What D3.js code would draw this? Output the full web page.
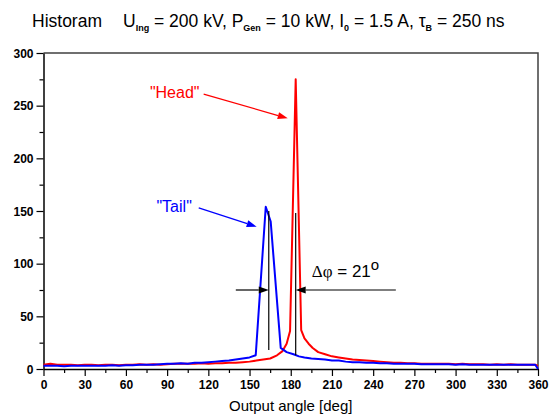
<!DOCTYPE html>
<html>
<head>
<meta charset="utf-8">
<script src="https://cdn.jsdelivr.net/npm/d3@7"></script>
<style>
  body { margin: 0; background: #fff; }
  svg { display: block; font-family: Arial, "Liberation Sans", sans-serif; }
</style>
</head>
<body>
<svg id="chart" width="549" height="420"></svg>
<script>
// histogram "Head" (red)
let headAngle = [0, 5, 10, 15, 20, 25, 30, 35, 40, 45, 50, 55, 60, 65, 70, 75, 80, 85, 90, 95, 100, 105, 110, 115, 120, 125, 130, 135, 140, 145, 150, 155, 160, 165, 170, 174, 177, 179.5, 183.6, 187.6, 190, 193, 196, 200, 205, 210, 215, 220, 225, 230, 235, 240, 245, 250, 255, 260, 265, 270, 275, 280, 285, 290, 295, 300, 305, 310, 315, 320, 325, 330, 335, 340, 345, 350, 355, 358, 360]
let headCount = [4, 5, 4, 4, 4, 3.5, 4, 4, 3.5, 4, 4, 3.5, 4, 4, 4.5, 4, 4.5, 4, 4.5, 5, 5, 5, 5, 5.5, 5, 5.5, 5.5, 6, 6, 6.5, 7, 8, 9, 10, 13, 17, 24, 36, 275, 37, 29, 24, 20, 16, 14, 12, 11, 10, 9, 8.5, 8, 7.5, 7, 6.5, 6, 6, 5.5, 5.5, 5, 5, 5, 5, 5, 4.5, 5, 4.5, 4.5, 4.5, 4, 4.5, 4, 4.5, 4, 4, 4, 4, 3]

// histogram "Tail" (blue)
let tailAngle = [0, 5, 10, 15, 20, 25, 30, 35, 40, 45, 50, 55, 60, 65, 70, 75, 80, 85, 90, 95, 100, 105, 110, 115, 120, 125, 130, 135, 140, 145, 150, 154.5, 161.8, 165.4, 172.7, 177, 182, 186, 190, 195, 200, 205, 210, 215, 220, 225, 230, 235, 240, 245, 250, 255, 260, 265, 270, 275, 280, 285, 290, 295, 300, 305, 310, 315, 320, 325, 330, 335, 340, 345, 350, 355, 358, 360]
let tailCount = [3, 3, 3, 2.5, 3, 3, 3, 3, 3, 3, 3.5, 3, 3.5, 3.5, 4, 4, 4, 4.5, 5, 5, 5.5, 5, 6, 6, 6.5, 7, 7.5, 8, 9, 10, 11, 13, 154, 140, 20, 16, 14, 12, 11, 10, 9.5, 9, 8, 8, 7, 6.5, 6.5, 6, 6, 5.5, 5.5, 5, 5, 5, 5, 4.5, 4.5, 4.5, 4.5, 4.5, 4, 4.5, 4, 4, 4, 4, 4, 4, 4, 4, 4, 4, 4, 0]

let xTicks = d3.range(0, 361, 30)
let yTicks = [0, 50, 100, 150, 200, 250, 300]

let svg = d3.select('#chart')
let plotLeft = 43.5, plotRight = 538, plotTop = 53, plotBottom = 369

let x = d3.scaleLinear().domain([0, 360]).range([plotLeft, plotRight])
let y = d3.scaleLinear().domain([0, 300]).range([plotBottom, plotTop])

// frame on top and right
svg.append('path')
   .attr('d', 'M' + plotLeft + ',' + plotTop + 'H' + plotRight + 'V' + plotBottom)
   .attr('fill', 'none')
   .attr('stroke', '#404040')
   .attr('stroke-width', 1.5)

// minor ticks
let xAxisMinor = d3.axisBottom(x).tickValues(d3.range(15, 360, 30)).tickSize(4).tickFormat('')
let yAxisMinor = d3.axisLeft(y).tickValues(d3.range(25, 300, 50)).tickSize(4).tickFormat('')

svg.append('g').attr('transform', 'translate(0,' + plotBottom + ')').call(xAxisMinor)
   .call(g => g.select('.domain').remove())
   .selectAll('line').attr('stroke-width', 1.2)
svg.append('g').attr('transform', 'translate(' + plotLeft + ',0)').call(yAxisMinor)
   .call(g => g.select('.domain').remove())
   .selectAll('line').attr('stroke-width', 1.2)

let xAxis = d3.axisBottom(x).tickValues(xTicks).tickSize(7).tickSizeOuter(0).tickPadding(4)
let yAxis = d3.axisLeft(y).tickValues(yTicks).tickSize(7).tickSizeOuter(0).tickPadding(3)

let gx = svg.append('g').attr('transform', 'translate(0,' + plotBottom + ')').call(xAxis)
let gy = svg.append('g').attr('transform', 'translate(' + plotLeft + ',0)').call(yAxis)

;[gx, gy].forEach(g => {
    g.select('.domain').attr('stroke-width', 1.5)
    g.selectAll('line').attr('stroke-width', 1.2)
    g.selectAll('text')
     .style('font-family', 'Arial, "Liberation Sans", sans-serif')
     .style('font-size', '12px')
     .style('font-weight', 'bold')
     .attr('fill', '#000')
})
gy.selectAll('text').attr('dy', '0.36em')

// data lines
let line = d3.line().x(d => x(d[0])).y(d => y(d[1]))

svg.append('path')
   .datum(headAngle.map((a, i) => [a, headCount[i]]))
   .attr('d', line)
   .attr('fill', 'none')
   .attr('stroke', '#ff0000')
   .attr('stroke-width', 2)
   .attr('stroke-linejoin', 'round')

svg.append('path')
   .datum(tailAngle.map((a, i) => [a, tailCount[i]]))
   .attr('d', line)
   .attr('fill', 'none')
   .attr('stroke', '#0000ff')
   .attr('stroke-width', 2)
   .attr('stroke-linejoin', 'round')

// arrows
let arrow = (x1, y1, x2, y2, color, width) => {
    let ang = Math.atan2(y2 - y1, x2 - x1)
    let len = 10, half = 3.5
    let bx = x2 - len * Math.cos(ang), by = y2 - len * Math.sin(ang)
    svg.append('line')
       .attr('x1', x1).attr('y1', y1).attr('x2', bx).attr('y2', by)
       .attr('stroke', color).attr('stroke-width', width)
    svg.append('path')
       .attr('d', 'M' + x2 + ',' + y2 +
                  'L' + (bx + half * Math.sin(ang)) + ',' + (by - half * Math.cos(ang)) +
                  'L' + (bx - half * Math.sin(ang)) + ',' + (by + half * Math.cos(ang)) + 'Z')
       .attr('fill', color)
}

// "Head" label
svg.append('text')
   .attr('x', x(95.5)).attr('y', y(257.4))
   .attr('text-anchor', 'middle')
   .attr('fill', '#ff0000')
   .style('font-size', '16px')
   .text('"Head"')
arrow(x(116.6), y(261), x(177.8), y(238), '#ff0000', 1.3)

// "Tail" label
svg.append('text')
   .attr('x', x(95.1)).attr('y', y(149))
   .attr('text-anchor', 'middle')
   .attr('fill', '#0000ff')
   .style('font-size', '16px')
   .text('"Tail"')
arrow(x(113), y(153), x(155.2), y(135), '#0000ff', 1.3)

// peak marker lines
svg.append('line')
   .attr('x1', x(164)).attr('x2', x(164)).attr('y1', y(150)).attr('y2', y(18))
   .attr('stroke', '#000').attr('stroke-width', 1.2)
svg.append('line')
   .attr('x1', x(183.6)).attr('x2', x(183.6)).attr('y1', y(148)).attr('y2', y(13))
   .attr('stroke', '#000').attr('stroke-width', 1.2)

arrow(x(140), y(75), x(164), y(75), '#000', 1.2)
arrow(x(256.5), y(75), x(183.6), y(75), '#000', 1.2)

let dphi = svg.append('text')
   .attr('x', x(195.3)).attr('y', y(87.4))
   .attr('fill', '#000')
   .style('font-size', '17px')
dphi.append('tspan').style('font-family', '"Liberation Serif", "Times New Roman", serif').text('Δφ')
dphi.append('tspan').text(' = 21')
dphi.append('tspan').attr('dy', -7).style('font-size', '15px').text('o')

// title
let title = svg.append('g').style('font-size', '17.5px').attr('fill', '#000')
title.append('text').attr('x', 32).attr('y', 27).text('Historam')
let t2 = title.append('text').attr('x', 123).attr('y', 27)
let sub = (txt) => t2.append('tspan').attr('dy', 3.5).style('font-size', '9px').style('font-weight', 'bold').text(txt)
let norm = (txt) => t2.append('tspan').attr('dy', -3.5).text(txt)
t2.append('tspan').text('U')
sub('Ing')
norm(' = 200 kV, P')
sub('Gen')
norm(' = 10 kW, I')
sub('0')
norm(' = 1.5 A, τ')
sub('B')
norm(' = 250 ns')

// x axis title
svg.append('text')
   .attr('x', (plotLeft + plotRight) / 2).attr('y', 411)
   .attr('text-anchor', 'middle')
   .style('font-size', '15px')
   .text('Output angle [deg]')
</script>
</body>
</html>
